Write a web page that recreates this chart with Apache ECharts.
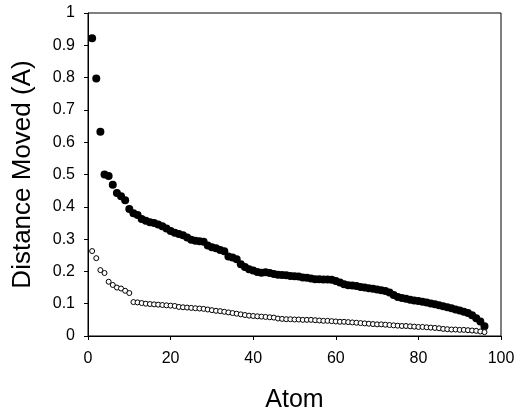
<!DOCTYPE html>
<html>
<head>
<meta charset="utf-8">
<script src="https://cdn.jsdelivr.net/npm/echarts@6/dist/echarts.min.js"></script>
<style>
  html, body { margin: 0; padding: 0; background: #fff; }
  #chart { width: 521px; height: 415px; }
</style>
</head>
<body>
<div id="chart"></div>
<script>
// atom index 1..96, distance moved (A), sorted high to low
const filledDist = [
  0.922, 0.797, 0.632, 0.500, 0.495, 0.468, 0.443, 0.433, 0.420, 0.393,
  0.380, 0.375, 0.362, 0.357, 0.352, 0.350, 0.345, 0.340, 0.333, 0.325,
  0.320, 0.316, 0.312, 0.305, 0.298, 0.295, 0.293, 0.292, 0.280, 0.275,
  0.272, 0.266, 0.262, 0.246, 0.243, 0.238, 0.222, 0.214, 0.207, 0.203,
  0.198, 0.196, 0.197, 0.195, 0.192, 0.190, 0.189, 0.188, 0.186, 0.185,
  0.184, 0.181, 0.180, 0.178, 0.176, 0.176, 0.175, 0.175, 0.174, 0.170,
  0.166, 0.160, 0.157, 0.156, 0.155, 0.152, 0.150, 0.148, 0.146, 0.144,
  0.142, 0.139, 0.135, 0.127, 0.121, 0.118, 0.115, 0.112, 0.110, 0.108,
  0.106, 0.104, 0.101, 0.098, 0.095, 0.092, 0.089, 0.086, 0.082, 0.079,
  0.075, 0.071, 0.064, 0.055, 0.045, 0.030
];
const openDist = [
  0.263, 0.241, 0.204, 0.195, 0.168, 0.158, 0.150, 0.147, 0.140, 0.133,
  0.105, 0.104, 0.102, 0.100, 0.099, 0.098, 0.097, 0.096, 0.095, 0.094,
  0.093, 0.090, 0.089, 0.088, 0.087, 0.086, 0.085, 0.084, 0.082, 0.080,
  0.078, 0.077, 0.075, 0.073, 0.071, 0.069, 0.067, 0.065, 0.063, 0.062,
  0.061, 0.060, 0.059, 0.058, 0.057, 0.054, 0.053, 0.052, 0.052, 0.051,
  0.051, 0.050, 0.050, 0.050, 0.049, 0.048, 0.047, 0.047, 0.046, 0.045,
  0.044, 0.044, 0.043, 0.042, 0.041, 0.040, 0.039, 0.038, 0.037, 0.036,
  0.036, 0.035, 0.034, 0.033, 0.032, 0.031, 0.031, 0.030, 0.029, 0.028,
  0.028, 0.027, 0.026, 0.025, 0.024, 0.022, 0.021, 0.020, 0.020, 0.019,
  0.019, 0.018, 0.017, 0.016, 0.014, 0.012
];

const toPoints = (arr) => arr.map((v, i) => [i + 1, v]);

const font = "'Liberation Sans', Arial, sans-serif";

let option = {
  animation: false,
  backgroundColor: "#fff",
  grid: {
    left: 88,
    right: 20,
    top: 13,
    bottom: 79,
    outerBoundsMode: "none",
    show: true,
    borderColor: "#000",
    borderWidth: 1
  },
  xAxis: {
    type: "value",
    min: 0,
    max: 100,
    interval: 20,
    name: "Atom",
    nameLocation: "middle",
    nameGap: 52,
    nameTextStyle: { fontFamily: font, fontSize: 25, color: "#000" },
    axisLine: { lineStyle: { color: "#000", width: 1 } },
    axisTick: { show: true, length: 4, lineStyle: { color: "#000" } },
    axisLabel: { fontFamily: font, fontSize: 16, color: "#000", margin: 15 },
    splitLine: { show: false }
  },
  yAxis: {
    type: "value",
    min: 0,
    max: 1,
    interval: 0.1,
    name: "Distance Moved (A)",
    nameLocation: "middle",
    nameGap: 52,
    nameTextStyle: { fontFamily: font, fontSize: 26, color: "#000" },
    axisLine: { show: true, lineStyle: { color: "#000", width: 1 } },
    axisTick: { show: true, length: 4, lineStyle: { color: "#000" } },
    axisLabel: { fontFamily: font, fontSize: 16, color: "#000", margin: 13 },
    splitLine: { show: false }
  },
  series: [
    {
      name: "filled",
      type: "scatter",
      symbol: "circle",
      symbolSize: 8,
      itemStyle: { color: "#000", opacity: 1 },
      data: toPoints(filledDist)
    },
    {
      name: "open",
      type: "scatter",
      symbol: "circle",
      symbolSize: 5,
      itemStyle: { color: "#fff", borderColor: "#000", borderWidth: 1, opacity: 1 },
      data: toPoints(openDist)
    }
  ]
};

let myChart = echarts.init(document.getElementById("chart"));
myChart.setOption(option);
</script>
</body>
</html>
